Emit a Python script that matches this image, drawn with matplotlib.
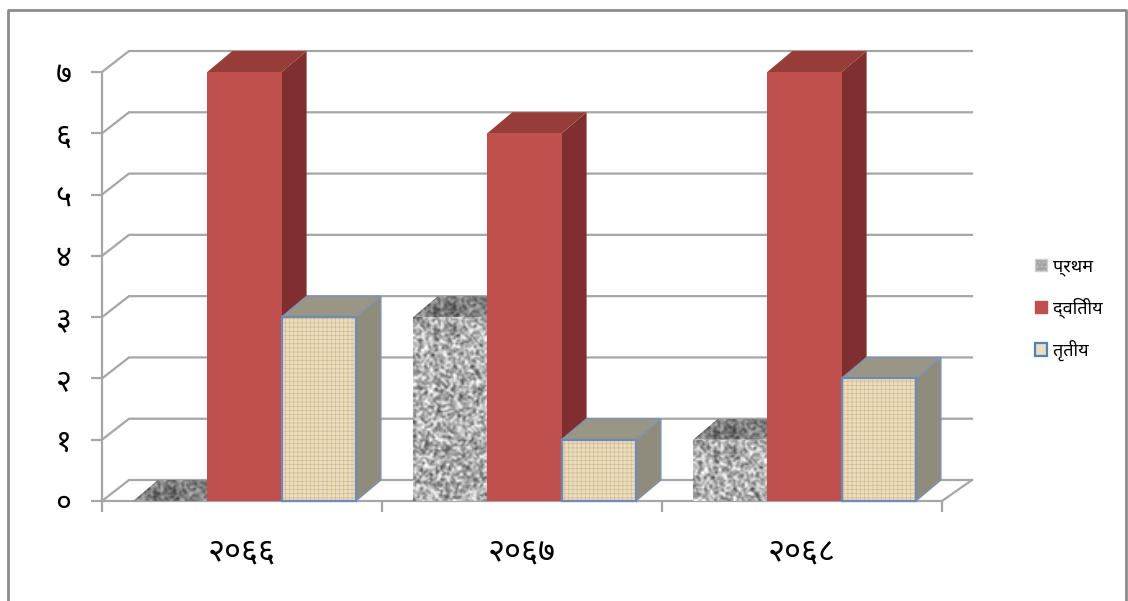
import numpy as np
import matplotlib
matplotlib.use('Agg')
import matplotlib.pyplot as plt
from matplotlib.patches import Polygon, Patch
from matplotlib.lines import Line2D

plt.rcParams['font.family'] = ['Noto Sans', 'DejaVu Sans']
plt.rcParams['hatch.linewidth'] = 0.45

years = ['२०६६', '२०६७', '२०६८']
y_labels = ['०', '१', '२', '३', '४', '५', '६', '७']
series_names = ['प्रथम', 'द्वितीय', 'तृतीय']
first = [0, 3, 1]
second = [7, 6, 7]
third = [3, 1, 2]

W, H = 1128, 601
# pixel sizes turned into data units below
UX = 280.0
UY = 61.3
GRID_DX, GRID_DY = 27 / UX, 21 / UY
BAR_DX, BAR_DY = 25 / UX, 21 / UY
GAP = 31 / UX
BAR_W = 74.3 / UX
GRID = '#a6a6a6'
GRID_LW = 1.6


def granite(rows, cols):
    #speckle texture for the first series, only a fill pattern
    i, j = np.mgrid[0:rows, 0:cols]
    n = np.sin(i * 12.9898 + j * 78.233) * 43758.5453
    n = n - np.floor(n)
    n = (n + np.roll(n, 1, 0) + np.roll(n, 1, 1) + np.roll(np.roll(n, 1, 0), 1, 1)) / 4
    return 0.68 + (n - 0.5) * 0.95


def face(ax, pts, color, z, **kw):
    p = Polygon(pts, closed=True, facecolor=color, zorder=z, clip_on=False, **kw)
    ax.add_patch(p)
    return p


def tex_face(ax, pts, z, shade=1.0):
    pts = np.array(pts)
    x0, x1 = pts[:, 0].min(), pts[:, 0].max()
    y0, y1 = pts[:, 1].min(), pts[:, 1].max()
    if y1 - y0 <= 0:
        return
    rows = max(int((y1 - y0) * UY / 1.6), 2)
    cols = max(int((x1 - x0) * UX / 1.6), 2)
    im = ax.imshow(granite(rows, cols) * shade, cmap='gray', vmin=0, vmax=1, extent=(x0, x1, y0, y1),
                   aspect='auto', interpolation='bilinear', zorder=z)
    clip = Polygon(pts, closed=True, transform=ax.transData)
    im.set_clip_path(clip)
    im.set_clip_on(True)


def draw_bar(ax, x, v, kind, z):
    w = BAR_W
    side = [(x + w, 0), (x + w + BAR_DX, BAR_DY), (x + w + BAR_DX, v + BAR_DY), (x + w, v)]
    top = [(x, v), (x + w, v), (x + w + BAR_DX, v + BAR_DY), (x + BAR_DX, v + BAR_DY)]
    front = [(x, 0), (x + w, 0), (x + w, v), (x, v)]
    if kind == 0:
        tex_face(ax, side, z, 0.65)
        tex_face(ax, top, z + 0.1, 0.72)
        tex_face(ax, front, z + 0.2)
    elif kind == 1:
        face(ax, side, '#7f302e', z, edgecolor='none')
        face(ax, top, '#963c39', z + 0.1, edgecolor='none')
        face(ax, front, '#c0504d', z + 0.2, edgecolor='none')
    else:
        face(ax, side, '#8f8c7c', z, edgecolor='#7f94b5', linewidth=1)
        face(ax, top, '#999685', z + 0.1, edgecolor='#7f94b5', linewidth=1)
        face(ax, front, '#ebdcc0', z + 0.2, edgecolor='none')
        ax.add_patch(Polygon(front, closed=True, facecolor='none', edgecolor='#d2b98c', hatch='++++',
                             linewidth=0, zorder=z + 0.3, clip_on=False))
        ax.add_patch(Polygon(front, closed=True, facecolor='none', edgecolor='#6f8bb5', linewidth=1.6,
                             zorder=z + 0.4, clip_on=False))


fig = plt.figure(figsize=(W / 100, H / 100), dpi=100)
ax = fig.add_axes([102 / W, 1 - 501 / H, 840 / W, 429 / H])
ax.patch.set_alpha(0)

#grid lines go from the front axis to the back wall
for v in range(len(y_labels)):
    ax.plot([0, GRID_DX, 3 + 30 / UX], [v, v + GRID_DY, v + GRID_DY], color=GRID, lw=GRID_LW,
            clip_on=False, zorder=1, solid_joinstyle='miter')
ax.plot([3, 3 + 30 / UX], [0, GRID_DY], color=GRID, lw=GRID_LW, clip_on=False, zorder=1)

all_series = [first, second, third]
z = 2
for g in range(len(years)):
    for s in range(3):
        draw_bar(ax, g + GAP + s * BAR_W, all_series[s][g], s, z)
        z += 1

ax.set_xlim(0, 3)
ax.set_ylim(0, 7)
ax.set_xticks(range(4))
ax.set_xticklabels([])
ax.set_xticks([0.5, 1.5, 2.5], minor=True)
ax.set_xticklabels(years, minor=True, fontsize=23.5, fontweight='semibold')
ax.tick_params(axis='x', which='minor', length=0, pad=25, labelcolor='black')
ax.tick_params(axis='x', which='major', length=8, width=GRID_LW, color=GRID)
ax.set_yticks(range(len(y_labels)))
ax.set_yticklabels(y_labels, fontsize=22)
ax.tick_params(axis='y', length=8, width=GRID_LW, color=GRID, pad=14)
for sp in ['top', 'right']:
    ax.spines[sp].set_visible(False)
for sp in ['left', 'bottom']:
    ax.spines[sp].set_color(GRID)
    ax.spines[sp].set_linewidth(GRID_LW)
    ax.spines[sp].set_zorder(1.5)

handles = [Patch(facecolor='#a6a6a6', edgecolor='#d0d0d0', hatch='....'),
           Patch(facecolor='#c0504d', edgecolor='#c0504d'),
           Patch(facecolor='#ebdcc0', edgecolor='#4f81bd', linewidth=1.6)]
fig.legend(handles, series_names, loc='center left', bbox_to_anchor=(1019 / W, 1 - 309 / H),
           frameon=False, fontsize=13, handlelength=0.67, handleheight=0.67, handletextpad=0.3,
           labelspacing=1.2)

#outer frame of the picture, the bottom edge is cut off
fig.add_artist(Line2D([8 / W, 8 / W, 1126 / W, 1126 / W], [0, 1 - 10 / H, 1 - 10 / H, 0], color='#8c8c8c', lw=2,
                      transform=fig.transFigure))

fig.savefig('out.png', dpi=100)
